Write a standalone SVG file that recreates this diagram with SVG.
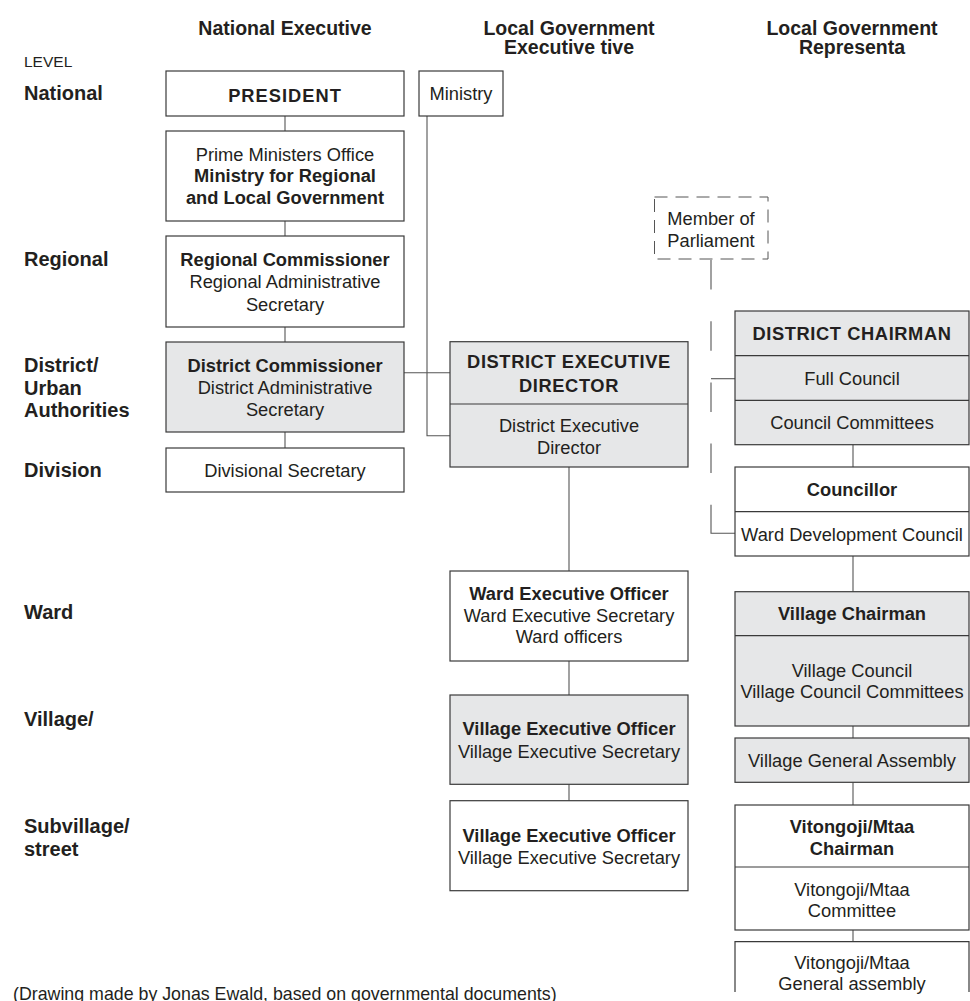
<svg xmlns="http://www.w3.org/2000/svg" width="970" height="1001" viewBox="0 0 970 1001">
  <style>
    text { font-family: "Liberation Sans", Arial, sans-serif; fill: #231f20; }
    .t { font-size: 18.3px; text-anchor: middle; }
    .b { font-weight: bold; }
    .caps { font-weight: bold; letter-spacing: 0.6px; }
    .hdr { font-size: 19.5px; font-weight: bold; text-anchor: middle; }
    .lvl { font-size: 20px; font-weight: bold; }
    .box { fill: #ffffff; stroke: #3a3a3a; stroke-width: 1.2; }
    .grey { fill: #e6e7e8; stroke: #3a3a3a; stroke-width: 1.2; }
    .div { stroke: #3a3a3a; stroke-width: 1.2; fill: none; }
    .dash { fill: #ffffff; stroke: #555555; stroke-width: 1; stroke-dasharray: 13 8; }
    .conn { stroke: #555555; stroke-width: 1.1; fill: none; }
  </style>

  <!-- column headers -->
  <g id="headers">
    <text class="hdr" x="285" y="35">National Executive</text>
    <text class="hdr" x="569" y="34.5">Local Government</text>
    <text class="hdr" x="569" y="53.5">Executive tive</text>
    <text class="hdr" x="852" y="34.5">Local Government</text>
    <text class="hdr" x="852" y="53.5">Representa</text>
  </g>

  <!-- level labels -->
  <g id="levels">
    <text x="24" y="67" style="font-size:15.5px">LEVEL</text>
    <text class="lvl" x="24" y="100">National</text>
    <text class="lvl" x="24" y="266">Regional</text>
    <text class="lvl" x="24" y="372">District/</text>
    <text class="lvl" x="24" y="394.5">Urban</text>
    <text class="lvl" x="24" y="417">Authorities</text>
    <text class="lvl" x="24" y="477">Division</text>
    <text class="lvl" x="24" y="619">Ward</text>
    <text class="lvl" x="24" y="726">Village/</text>
    <text class="lvl" x="24" y="833">Subvillage/</text>
    <text class="lvl" x="24" y="856">street</text>
  </g>

  <!-- connectors -->
  <g id="connectors">
    <!-- national executive chain -->
    <line class="conn" x1="285" y1="116" x2="285" y2="131"/>
    <line class="conn" x1="285" y1="221" x2="285" y2="236"/>
    <line class="conn" x1="285" y1="327" x2="285" y2="342"/>
    <line class="conn" x1="285" y1="432" x2="285" y2="448"/>
    <!-- ministry to district executive director -->
    <path class="conn" d="M427,116 V435.7 H450"/>
    <!-- district commissioner to district executive director -->
    <line class="conn" x1="404" y1="372.7" x2="450" y2="372.7"/>
    <!-- executive chain -->
    <line class="conn" x1="569" y1="467" x2="569" y2="571"/>
    <line class="conn" x1="569" y1="661" x2="569" y2="695"/>
    <line class="conn" x1="569" y1="784.3" x2="569" y2="800.7"/>
    <!-- member of parliament link -->
    <line class="conn" x1="711" y1="260" x2="711" y2="504.8" stroke-dasharray="29.5 31.7"/>
    <path class="conn" d="M711,504.8 V533.3 H735"/>
    <line class="conn" x1="711" y1="378.7" x2="735" y2="378.7"/>
    <!-- representative chain -->
    <line class="conn" x1="853" y1="444.7" x2="853" y2="467"/>
    <line class="conn" x1="853" y1="556" x2="853" y2="591.7"/>
    <line class="conn" x1="853" y1="726" x2="853" y2="738"/>
    <line class="conn" x1="853" y1="782.3" x2="853" y2="805"/>
    <line class="conn" x1="853" y1="930" x2="853" y2="941.7"/>
  </g>

  <!-- national executive column -->
  <g id="president">
    <rect class="box" x="166" y="71" width="238" height="45"/>
    <text class="t caps" x="285" y="101.7" style="letter-spacing:1px">PRESIDENT</text>
  </g>
  <g id="ministry">
    <rect class="box" x="419" y="71" width="84" height="45"/>
    <text class="t" x="461" y="100">Ministry</text>
  </g>
  <g id="pmo">
    <rect class="box" x="166" y="131" width="238" height="90"/>
    <text class="t" x="285" y="160.7">Prime Ministers Office</text>
    <text class="t b" x="285" y="182.4">Ministry for Regional</text>
    <text class="t b" x="285" y="204.1">and Local Government</text>
  </g>
  <g id="regional-commissioner">
    <rect class="box" x="166" y="236" width="238" height="91"/>
    <text class="t b" x="285" y="266">Regional Commissioner</text>
    <text class="t" x="285" y="288.3">Regional Administrative</text>
    <text class="t" x="285" y="310.6">Secretary</text>
  </g>
  <g id="district-commissioner">
    <rect class="grey" x="166" y="342" width="238" height="90"/>
    <text class="t b" x="285" y="371.7">District Commissioner</text>
    <text class="t" x="285" y="394">District Administrative</text>
    <text class="t" x="285" y="416.3">Secretary</text>
  </g>
  <g id="divisional-secretary">
    <rect class="box" x="166" y="448" width="238" height="44"/>
    <text class="t" x="285" y="476.7">Divisional Secretary</text>
  </g>

  <!-- local government executive column -->
  <g id="district-executive-director">
    <rect class="grey" x="450" y="341.7" width="238" height="125.3"/>
    <line class="div" x1="450" y1="404" x2="688" y2="404"/>
    <text class="t caps" x="569" y="368.3">DISTRICT EXECUTIVE</text>
    <text class="t caps" x="569" y="391.6">DIRECTOR</text>
    <text class="t" x="569" y="432">District Executive</text>
    <text class="t" x="569" y="454.3">Director</text>
  </g>
  <g id="ward-executive-officer">
    <rect class="box" x="450" y="571" width="238" height="90"/>
    <text class="t b" x="569" y="600">Ward Executive Officer</text>
    <text class="t" x="569" y="621.7">Ward Executive Secretary</text>
    <text class="t" x="569" y="643.4">Ward officers</text>
  </g>
  <g id="village-executive-officer">
    <rect class="grey" x="450" y="695" width="238" height="89.3"/>
    <text class="t b" x="569" y="735">Village Executive Officer</text>
    <text class="t" x="569" y="757.6">Village Executive Secretary</text>
  </g>
  <g id="subvillage-executive-officer">
    <rect class="box" x="450" y="800.7" width="238" height="90"/>
    <text class="t b" x="569" y="841.7">Village Executive Officer</text>
    <text class="t" x="569" y="864">Village Executive Secretary</text>
  </g>

  <!-- local government representative column -->
  <g id="member-of-parliament">
    <rect class="dash" x="654.5" y="197" width="113.5" height="62"/>
    <text class="t" x="711" y="224.5">Member of</text>
    <text class="t" x="711" y="246.5">Parliament</text>
  </g>
  <g id="district-chairman">
    <rect class="grey" x="735" y="311" width="234" height="133.7"/>
    <line class="div" x1="735" y1="355.7" x2="969" y2="355.7"/>
    <line class="div" x1="735" y1="400.3" x2="969" y2="400.3"/>
    <text class="t caps" x="852" y="340">DISTRICT CHAIRMAN</text>
    <text class="t" x="852" y="384.5">Full Council</text>
    <text class="t" x="852" y="429">Council Committees</text>
  </g>
  <g id="councillor">
    <rect class="box" x="735" y="467" width="234" height="89"/>
    <line class="div" x1="735" y1="511.7" x2="969" y2="511.7"/>
    <text class="t b" x="852" y="496">Councillor</text>
    <text class="t" x="852" y="541">Ward Development Council</text>
  </g>
  <g id="village-chairman">
    <rect class="grey" x="735" y="591.7" width="234" height="134.3"/>
    <line class="div" x1="735" y1="635.7" x2="969" y2="635.7"/>
    <text class="t b" x="852" y="620">Village Chairman</text>
    <text class="t" x="852" y="676.7">Village Council</text>
    <text class="t" x="852" y="698.4">Village Council Committees</text>
  </g>
  <g id="village-general-assembly">
    <rect class="grey" x="735" y="738" width="234" height="44.3"/>
    <text class="t" x="852" y="766.5">Village General Assembly</text>
  </g>
  <g id="vitongoji-chairman">
    <rect class="box" x="735" y="805" width="234" height="125"/>
    <line class="div" x1="735" y1="867" x2="969" y2="867"/>
    <text class="t b" x="852" y="833.3">Vitongoji/Mtaa</text>
    <text class="t b" x="852" y="855">Chairman</text>
    <text class="t" x="852" y="895.7">Vitongoji/Mtaa</text>
    <text class="t" x="852" y="917.3">Committee</text>
  </g>
  <g id="vitongoji-general-assembly">
    <rect x="735" y="941.7" width="234" height="50.3" fill="#ffffff"/>
    <path class="div" d="M735,992 V941.7 H969 V992"/>
    <text class="t" x="852" y="968.5">Vitongoji/Mtaa</text>
    <text class="t" x="852" y="990">General assembly</text>
  </g>

  <!-- source note -->
  <text x="13" y="1000" style="font-size:17.8px">(Drawing made by Jonas Ewald, based on governmental documents)</text>
</svg>
